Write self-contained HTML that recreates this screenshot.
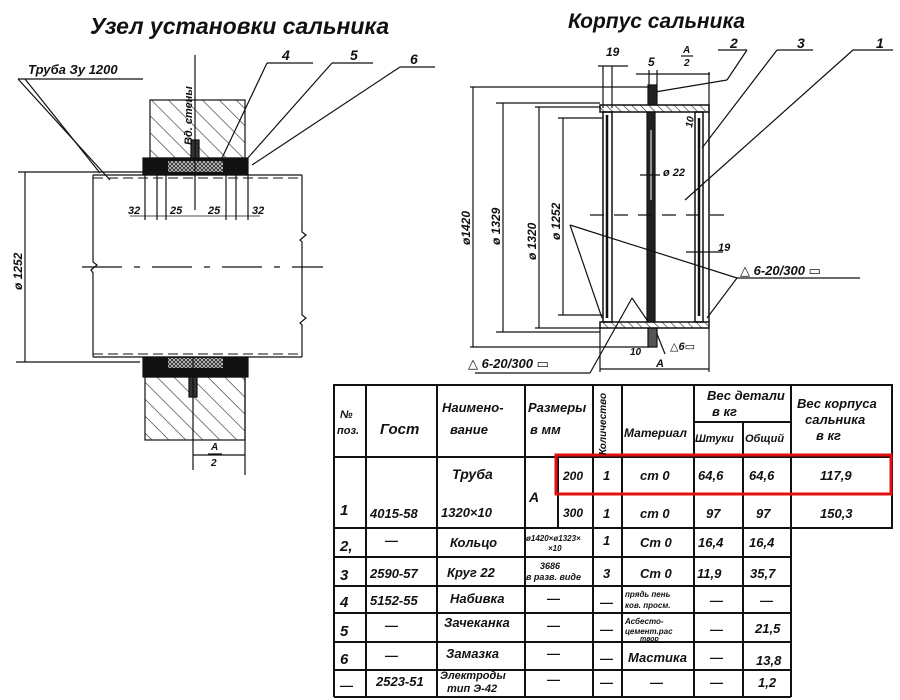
<!DOCTYPE html>
<html><head><meta charset="utf-8"><style>
html,body{margin:0;padding:0;background:#fff}
svg{display:block}
text{font-family:"Liberation Sans","DejaVu Sans",sans-serif;font-style:italic;font-weight:bold;fill:#111}
</style></head><body>
<svg width="900" height="700" viewBox="0 0 900 700" xmlns="http://www.w3.org/2000/svg">
<defs>
<pattern id="h" width="12" height="12" patternUnits="userSpaceOnUse" patternTransform="rotate(-45)"><line x1="0" y1="0" x2="0" y2="12" stroke="#222" stroke-width="1.2"/></pattern>
<pattern id="hs" width="6" height="6" patternUnits="userSpaceOnUse" patternTransform="rotate(-45)"><line x1="0" y1="0" x2="0" y2="6" stroke="#222" stroke-width="1.2"/></pattern>
<pattern id="x" width="4" height="4" patternUnits="userSpaceOnUse"><rect width="4" height="4" fill="#ccc"/><path d="M0 0L4 4M4 0L0 4" stroke="#222" stroke-width="0.8"/></pattern>
</defs>
<g stroke="#111" fill="none" stroke-width="1.2">
<text x="90" y="34" font-size="23" stroke="none">Узел  установки  сальника</text>
<text x="28" y="74" font-size="13" stroke="none">Труба Зу 1200</text>
<line x1="18" y1="79" x2="143" y2="79"/>
<line x1="18" y1="79" x2="110" y2="180"/>
<line x1="25" y1="79" x2="100" y2="173"/>
<text x="282" y="60" font-size="14" stroke="none">4</text>
<line x1="267" y1="63" x2="313" y2="63"/><line x1="267" y1="63" x2="222" y2="158"/>
<text x="350" y="60" font-size="14" stroke="none">5</text>
<line x1="332" y1="63" x2="373" y2="63"/><line x1="332" y1="63" x2="246" y2="160"/>
<text x="410" y="64" font-size="14" stroke="none">6</text>
<line x1="400" y1="67" x2="435" y2="67"/><line x1="400" y1="67" x2="252" y2="165"/>
<rect x="150" y="100" width="95" height="58" fill="url(#h)"/>
<rect x="145" y="377" width="100" height="63" fill="url(#h)"/>
<rect x="143" y="158" width="105" height="17" fill="#111"/>
<rect x="168" y="161" width="55" height="11" fill="url(#x)" stroke="none"/>
<rect x="143" y="357" width="105" height="20" fill="#111"/>
<rect x="168" y="358" width="55" height="10" fill="url(#x)" stroke="none"/>
<rect x="191" y="140" width="8" height="18" fill="#333"/>
<rect x="189" y="377" width="8" height="20" fill="#333"/>
<line x1="195" y1="55" x2="195" y2="210"/>
<line x1="193" y1="357" x2="193" y2="470"/>
<text transform="translate(192,145) rotate(-90)" font-size="11" stroke="none">Вд. стены</text>
<line x1="245" y1="377" x2="245" y2="475"/>
<line x1="93" y1="175" x2="302" y2="175"/>
<line x1="93" y1="357" x2="302" y2="357"/>
<line x1="93" y1="178" x2="302" y2="178" stroke-dasharray="10 5" stroke-width="1"/>
<line x1="93" y1="354" x2="302" y2="354" stroke-dasharray="10 5" stroke-width="1"/>
<path d="M93 175V262l4 3-6 5 2 3V357"/>
<path d="M302 175V232l4 3-6 5 2 2V315l4 3-6 5 2 2V357"/>
<line x1="82" y1="267" x2="323" y2="267" stroke-dasharray="40 12 6 12"/>
<line x1="18" y1="172" x2="146" y2="172"/><line x1="16" y1="362" x2="140" y2="362"/>
<line x1="25" y1="172" x2="25" y2="362"/>
<text transform="translate(22,290) rotate(-90)" font-size="12" stroke="none">ø 1252</text>
<line x1="145" y1="175" x2="145" y2="220"/><line x1="157" y1="175" x2="157" y2="220"/>
<line x1="166" y1="175" x2="166" y2="220"/><line x1="226" y1="175" x2="226" y2="220"/>
<line x1="236" y1="175" x2="236" y2="220"/><line x1="248" y1="175" x2="248" y2="220"/>
<line x1="130" y1="216" x2="260" y2="216" stroke-width="0.8"/>
<text x="128" y="214" font-size="11" stroke="none">32</text>
<text x="170" y="214" font-size="11" stroke="none">25</text>
<text x="208" y="214" font-size="11" stroke="none">25</text>
<text x="252" y="214" font-size="11" stroke="none">32</text>
<line x1="193" y1="455" x2="245" y2="455"/>
<text x="211" y="450" font-size="10" stroke="none">А</text>
<line x1="208" y1="454" x2="222" y2="454"/>
<text x="211" y="466" font-size="10" stroke="none">2</text>

<text x="568" y="28" font-size="21" stroke="none">Корпус сальника</text>
<text x="606" y="56" font-size="12" stroke="none">19</text>
<text x="648" y="66" font-size="12" stroke="none">5</text>
<text x="683" y="53" font-size="10" stroke="none">А</text><line x1="681" y1="56" x2="693" y2="56"/><text x="684" y="66" font-size="10" stroke="none">2</text>
<text x="730" y="48" font-size="14" stroke="none">2</text><line x1="718" y1="50" x2="747" y2="50"/><line x1="747" y1="50" x2="727" y2="80"/><line x1="727" y1="80" x2="655" y2="92"/>
<text x="797" y="48" font-size="14" stroke="none">3</text><line x1="777" y1="50" x2="813" y2="50"/><line x1="777" y1="50" x2="702" y2="148"/>
<text x="876" y="48" font-size="14" stroke="none">1</text><line x1="853" y1="50" x2="893" y2="50"/><line x1="853" y1="50" x2="685" y2="200"/>
<line x1="598" y1="66" x2="628" y2="66"/><line x1="603" y1="66" x2="603" y2="108"/><line x1="612" y1="66" x2="612" y2="108"/>
<line x1="636" y1="74" x2="710" y2="74"/><line x1="709" y1="72" x2="709" y2="112"/>
<line x1="649" y1="70" x2="649" y2="85"/><line x1="657" y1="70" x2="657" y2="85"/>
<rect x="648" y="85" width="9" height="20" fill="#222"/>
<rect x="648" y="328" width="9" height="19" fill="#555"/>
<rect x="600" y="105" width="109" height="7" fill="url(#hs)" stroke-width="1.5"/>
<rect x="600" y="322" width="109" height="6" fill="url(#hs)" stroke-width="1.5"/>
<rect x="603" y="112" width="9" height="210" stroke-width="1.5"/>
<line x1="607" y1="115" x2="607" y2="318" stroke-width="2.5"/>
<rect x="647" y="112" width="8" height="210" fill="#222"/>
<line x1="651" y1="130" x2="651" y2="200" stroke="#fff" stroke-width="1"/>
<rect x="695" y="112" width="8" height="210" stroke-width="1.5"/>
<line x1="699" y1="118" x2="699" y2="316" stroke-width="2.5"/>
<line x1="709" y1="112" x2="709" y2="322" stroke-width="1.5"/>
<line x1="590" y1="215" x2="725" y2="215" stroke-dasharray="14 10"/>
<line x1="470" y1="87" x2="650" y2="87"/><line x1="470" y1="347" x2="650" y2="347"/>
<line x1="473" y1="87" x2="473" y2="347"/>
<text transform="translate(470,245) rotate(-90)" font-size="12" stroke="none">ø1420</text>
<line x1="496" y1="103" x2="600" y2="103"/><line x1="496" y1="332" x2="600" y2="332"/>
<line x1="503" y1="103" x2="503" y2="332"/>
<text transform="translate(500,245) rotate(-90)" font-size="12" stroke="none">ø 1329</text>
<line x1="535" y1="107" x2="600" y2="107"/><line x1="535" y1="328" x2="600" y2="328"/>
<line x1="539" y1="107" x2="539" y2="328"/>
<text transform="translate(536,260) rotate(-90)" font-size="12" stroke="none">ø 1320</text>
<line x1="558" y1="118" x2="603" y2="118"/><line x1="558" y1="315" x2="603" y2="315"/>
<line x1="563" y1="118" x2="563" y2="315"/>
<text transform="translate(560,240) rotate(-90)" font-size="12" stroke="none">ø 1252</text>
<line x1="640" y1="175" x2="660" y2="175"/><text x="663" y="176" font-size="11" stroke="none">ø 22</text>
<line x1="686" y1="252" x2="723" y2="252"/><text x="718" y="251" font-size="11" stroke="none">19</text>
<text transform="translate(692,128) rotate(-80)" font-size="10" stroke="none">10</text>
<text x="740" y="275" font-size="13" stroke="none">△ 6-20/300 ▭</text>
<line x1="737" y1="278" x2="860" y2="278"/>
<line x1="737" y1="278" x2="707" y2="318"/>
<line x1="737" y1="278" x2="570" y2="225"/><line x1="570" y1="225" x2="602" y2="318"/>
<text x="468" y="368" font-size="13" stroke="none">△ 6-20/300 ▭</text>
<line x1="475" y1="373" x2="590" y2="373"/><line x1="590" y1="373" x2="632" y2="298"/><line x1="632" y1="298" x2="647" y2="320"/>
<text x="670" y="350" font-size="11" stroke="none">△6▭</text>
<path d="M665 354l-8-20"/>
<text x="630" y="355" font-size="10" stroke="none">10</text>
<text x="656" y="367" font-size="11" stroke="none">А</text>
<line x1="600" y1="328" x2="600" y2="372"/><line x1="709" y1="328" x2="709" y2="372"/>
<line x1="600" y1="369" x2="709" y2="369"/>

<g stroke-width="2">
<rect x="334" y="385" width="558" height="143"/>
<line x1="334" y1="457" x2="892" y2="457"/>
<line x1="694" y1="422" x2="791" y2="422"/>
<line x1="558" y1="494" x2="892" y2="494"/>
<line x1="334" y1="528" x2="791" y2="528"/>
<line x1="334" y1="557" x2="791" y2="557"/>
<line x1="334" y1="586" x2="791" y2="586"/>
<line x1="334" y1="613" x2="791" y2="613"/>
<line x1="334" y1="642" x2="791" y2="642"/>
<line x1="334" y1="670" x2="791" y2="670"/>
<line x1="334" y1="697" x2="791" y2="697"/>
<line x1="334" y1="385" x2="334" y2="697"/>
<line x1="366" y1="385" x2="366" y2="697"/>
<line x1="437" y1="385" x2="437" y2="697"/>
<line x1="525" y1="385" x2="525" y2="697"/>
<line x1="558" y1="457" x2="558" y2="528"/>
<line x1="593" y1="385" x2="593" y2="697"/>
<line x1="622" y1="385" x2="622" y2="697"/>
<line x1="694" y1="385" x2="694" y2="697"/>
<line x1="743" y1="422" x2="743" y2="697"/>
<line x1="791" y1="385" x2="791" y2="697"/>
</g>
<rect x="556" y="455" width="335" height="39" stroke="#e01010" stroke-width="3"/>
</g>
<g font-size="13">
<text x="340" y="418" font-size="11">№</text><text x="337" y="434" font-size="11">поз.</text>
<text x="380" y="434" font-size="15">Гост</text>
<text x="442" y="412">Наимено-</text><text x="450" y="434">вание</text>
<text x="528" y="412">Размеры</text><text x="530" y="434">в мм</text>
<text transform="translate(606,455) rotate(-90)" font-size="10">Количество</text>
<text x="624" y="437" font-size="12">Материал</text>
<text x="707" y="400">Вес детали</text><text x="712" y="416">в  кг</text>
<text x="695" y="442" font-size="11">Штуки</text><text x="745" y="442" font-size="11">Общий</text>
<text x="797" y="408">Вес корпуса</text><text x="805" y="424">сальника</text><text x="816" y="440">в кг</text>
<text x="452" y="479" font-size="14">Труба</text>
<text x="563" y="480" font-size="12">200</text><text x="603" y="480">1</text><text x="640" y="480">ст 0</text>
<text x="698" y="480">64,6</text><text x="749" y="480">64,6</text><text x="820" y="480">117,9</text>
<text x="340" y="515" font-size="15">1</text><text x="370" y="518">4015-58</text><text x="441" y="517">1320×10</text>
<text x="529" y="502" font-size="14">А</text>
<text x="563" y="517" font-size="12">300</text><text x="603" y="518">1</text><text x="640" y="518">ст 0</text>
<text x="706" y="518">97</text><text x="756" y="518">97</text><text x="820" y="518">150,3</text>
<text x="340" y="551" font-size="15">2,</text><text x="385" y="545">—</text><text x="450" y="547">Кольцо</text>
<text x="526" y="541" font-size="8">ø1420×ø1323×</text><text x="548" y="551" font-size="8">×10</text>
<text x="603" y="545">1</text><text x="640" y="547">Ст 0</text><text x="698" y="547">16,4</text><text x="749" y="547">16,4</text>
<text x="340" y="580" font-size="15">3</text><text x="370" y="578">2590-57</text><text x="447" y="577">Круг 22</text>
<text x="540" y="569" font-size="9">3686</text><text x="526" y="580" font-size="9">в разв. виде</text>
<text x="603" y="578">3</text><text x="640" y="578">Ст 0</text><text x="697" y="578">11,9</text><text x="750" y="578">35,7</text>
<text x="340" y="607" font-size="15">4</text><text x="370" y="605">5152-55</text><text x="450" y="603">Набивка</text>
<text x="547" y="603">—</text><text x="600" y="607">—</text>
<text x="625" y="597" font-size="8">прядь пень</text><text x="625" y="608" font-size="8">ков. просм.</text>
<text x="710" y="605">—</text><text x="760" y="605">—</text>
<text x="340" y="636" font-size="15">5</text><text x="385" y="630">—</text><text x="444" y="627">Зачеканка</text>
<text x="547" y="630">—</text><text x="600" y="634">—</text>
<text x="625" y="624" font-size="8">Асбесто-</text><text x="625" y="634" font-size="8">цемент.рас</text><text x="640" y="641" font-size="7">твор</text>
<text x="710" y="634">—</text><text x="755" y="633">21,5</text>
<text x="340" y="664" font-size="15">6</text><text x="385" y="660">—</text><text x="446" y="658">Замазка</text>
<text x="547" y="658">—</text><text x="600" y="663">—</text><text x="628" y="662">Мастика</text>
<text x="710" y="662">—</text><text x="756" y="665">13,8</text>
<text x="340" y="690">—</text><text x="376" y="686">2523-51</text>
<text x="440" y="679" font-size="11">Электроды</text><text x="447" y="692" font-size="11">тип Э-42</text>
<text x="547" y="684">—</text><text x="600" y="687">—</text><text x="650" y="687">—</text><text x="710" y="687">—</text><text x="758" y="687">1,2</text>
</g>
</svg>
</body></html>
